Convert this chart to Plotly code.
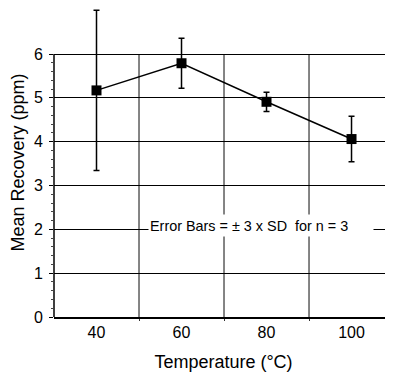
import plotly.graph_objects as go

temps = ["40", "60", "80", "100"]
mean_recovery = [5.17, 5.79, 4.91, 4.06]
err_3sd = [1.83, 0.57, 0.22, 0.52]
y_ticks = [0, 1, 2, 3, 4, 5, 6]
note = "Error Bars = \u00b1 3 x SD  for n = 3"

xpos = list(range(len(temps)))
x_bounds = [i + 0.5 for i in xpos[:-1]]
y_minor = [round(i + k * 0.2, 2) for i in y_ticks[:-1] for k in range(1, 5)]
y_top = y_ticks[-1]

fig = go.Figure()
fig.add_trace(go.Scatter(
    x=xpos, y=mean_recovery,
    mode="lines+markers",
    line=dict(color="black", width=1.5),
    marker=dict(symbol="square", size=10, color="black"),
    error_y=dict(type="data", array=err_3sd, visible=True,
                 color="black", thickness=1.5, width=3),
    cliponaxis=False,
    showlegend=False,
))

# vertical grid lines between categories (only up to top of value grid)
for xb in x_bounds:
    fig.add_shape(type="line", xref="x", yref="y", x0=xb, x1=xb, y0=0, y1=y_top,
                  line=dict(color="#333", width=1.2), layer="below")
# left axis line up to the top grid line
fig.add_shape(type="line", xref="paper", yref="y", x0=0, x1=0, y0=0, y1=y_top,
              line=dict(color="black", width=1.5), layer="above")

fig.add_annotation(
    x=1.93, y=2.088, xref="x", yref="y",
    text=note, showarrow=False, align="left",
    font=dict(family="Liberation Sans, Arial", size=14.4, color="black"),
    bgcolor="white", width=222, height=19, borderpad=1,
)

fig.update_layout(
    width=385, height=364,
    margin=dict(l=46, r=0, t=0, b=55),
    paper_bgcolor="white", plot_bgcolor="white",
    font=dict(family="Liberation Sans, Arial", color="black"),
    xaxis=dict(
        range=[-0.5, 3.488],
        tickvals=xpos, ticktext=temps,
        tickfont=dict(size=16),
        ticks="", showgrid=False, zeroline=False,
        showline=True, linecolor="black", linewidth=1.5,
        minor=dict(tickvals=x_bounds, showgrid=False,
                   ticks="outside", ticklen=2, tickcolor="#333"),
        title=dict(text="Temperature (\u00b0C)", font=dict(size=18), standoff=19),
    ),
    yaxis=dict(
        range=[0, 7.05],
        tickvals=y_ticks,
        tickfont=dict(size=16),
        ticks="outside", ticklen=4, tickcolor="black",
        ticklabelstandoff=3,
        showgrid=True, gridcolor="black", gridwidth=1.2,
        zeroline=False, showline=False,
        minor=dict(tickvals=y_minor, ticks="outside", ticklen=2,
                   tickcolor="#444", showgrid=False),
        title=dict(text="Mean Recovery (ppm)", font=dict(size=18), standoff=5),
    ),
)

fig.write_html("out.html")
